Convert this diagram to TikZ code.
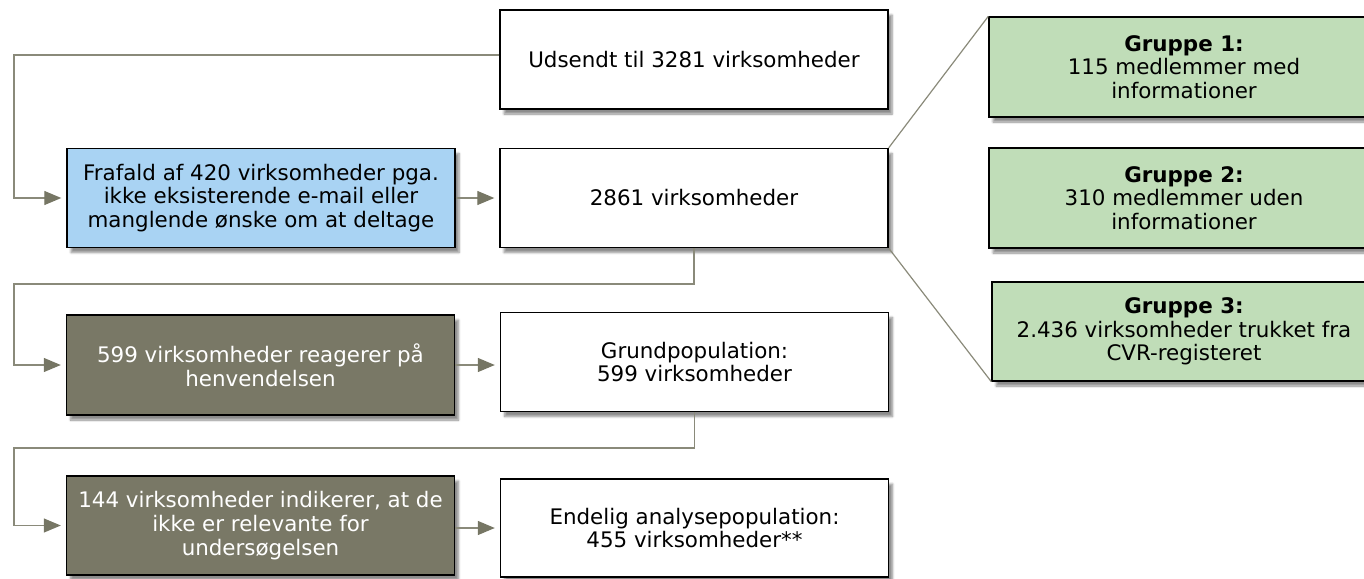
\documentclass[tikz,border=0pt]{standalone}
\usepackage{fontspec}
\setmainfont{DejaVu Sans}
\usepackage{tikz}
\usetikzlibrary{arrows.meta,shadows.blur}
\definecolor{lyseblaa}{HTML}{A9D3F3}
\definecolor{lysegroen}{HTML}{C0DDB8}
\definecolor{oliven}{HTML}{797866}
\definecolor{streg}{HTML}{8A8A7A}
\definecolor{pil}{HTML}{767664}

\begin{document}
\begin{tikzpicture}[x=1pt,y=-1pt,
    boks/.style={draw=black, line width=1.4pt, fill=white, align=center,
      inner sep=0pt, minimum width=388pt, minimum height=99pt,
      font=\fontsize{21.4}{23.6}\selectfont,
      blur shadow={shadow xshift=4pt, shadow yshift=-5pt, shadow blur steps=6, shadow opacity=45}},
    blaaboks/.style={boks, fill=lyseblaa},
    mørkboks/.style={boks, fill=oliven, text=white},
    groenboks/.style={boks, fill=lysegroen, minimum width=390pt},
    forbind/.style={draw=streg, line width=1.2pt},
    pilforbind/.style={forbind, shorten >=5pt, -{Triangle[length=17pt,width=14pt,color=pil]}}]
        \path[use as bounding box] (0,0) rectangle (1364,578);
        \clip (0,0) rectangle (1364,578);
        % hovedkolonne
        \node[boks] (udsendt) at (694,59.5) {Udsendt til 3281 virksomheder};
        \node[boks] (vf) at (694,198) {2861 virksomheder};
        \node[boks] (grund) at (694.5,362) {Grundpopulation:\\599 virksomheder};
        \node[boks, minimum height=98pt] (endelig) at (694.5,528) {Endelig analysepopulation:\\455 virksomheder**};
        % frafald til venstre
        \node[blaaboks] (frafald) at (261,198) {Frafald af 420 virksomheder pga.\\ikke eksisterende e-mail eller\\manglende ønske om at deltage};
        \node[mørkboks, minimum height=100pt] (reagerer) at (260.5,365) {599 virksomheder reagerer på\\henvendelsen};
        \node[mørkboks] (ikke) at (260.5,525.5) {144 virksomheder indikerer, at de\\ikke er relevante for\\undersøgelsen};
        % grupper til højre
        \node[groenboks, minimum height=100pt] (g1) at (1184,67) {\textbf{Gruppe 1:}\\115 medlemmer med\\informationer};
        \node[groenboks, minimum height=100pt] (g2) at (1184,198) {\textbf{Gruppe 2:}\\310 medlemmer uden\\informationer};
        \node[groenboks, minimum width=384pt] (g3) at (1184,331.5) {\textbf{Gruppe 3:}\\2.436 virksomheder trukket fra\\CVR-registeret};
        % knaekpunkter
        \coordinate (k0) at (14,55);
        \coordinate (k1) at (14,284);
        \coordinate (k2) at (14,448);
        \draw[pilforbind] (udsendt.west |- k0) -- (k0) |- (frafald.west);
        \draw[pilforbind] (frafald.east) -- (vf.west);
        \draw[pilforbind] (vf.south) |- (k1) |- (reagerer.west);
        \draw[pilforbind] (reagerer.east) -- (reagerer.east -| grund.west);
        \draw[pilforbind] (grund.south) |- (k2) |- (ikke.west);
        \draw[pilforbind] (ikke.east |- endelig.west) -- (endelig.west);
        \draw[forbind] (vf.north east) -- (g1.north west);
        \draw[forbind] (vf.south east) -- (g3.south west);
    \end{tikzpicture}
\end{document}
